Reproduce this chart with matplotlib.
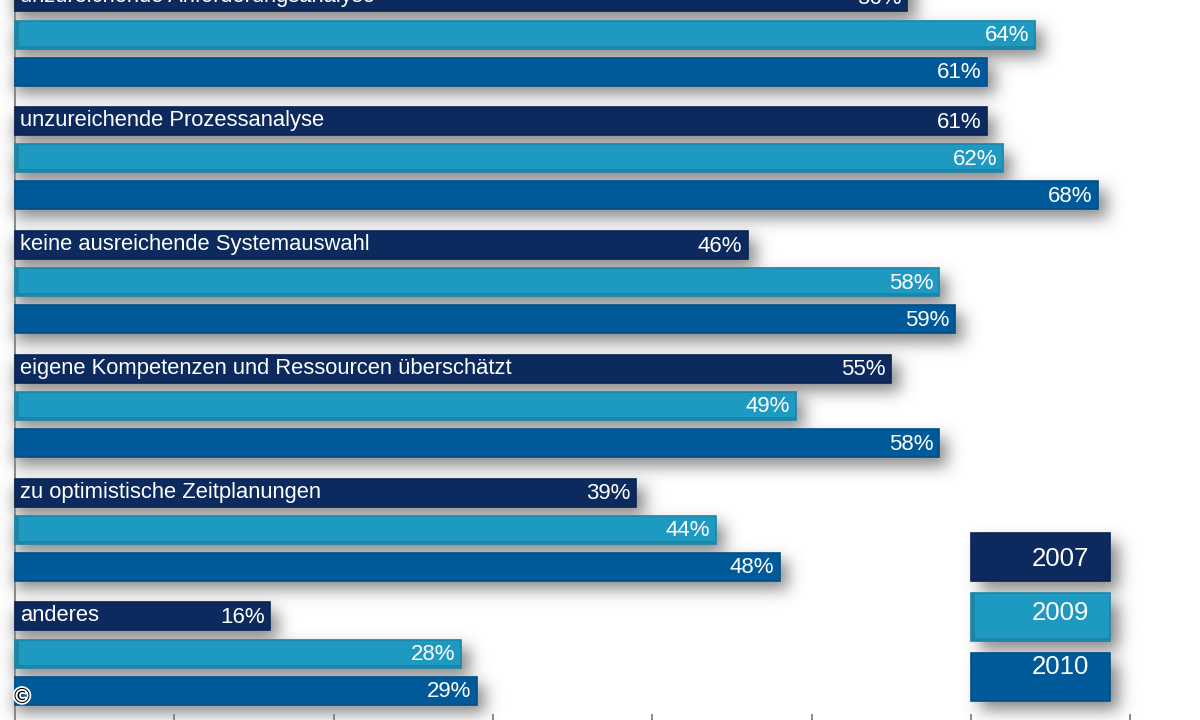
import numpy as np
import matplotlib
matplotlib.use("Agg")
import matplotlib.pyplot as plt
from matplotlib.patches import Rectangle
import matplotlib.patheffects as pe

plt.rcParams['font.family'] = ['Liberation Sans', 'DejaVu Sans']

categories = ["unzureichende Anforderungsanalyse", "unzureichende Prozessanalyse",
              "keine ausreichende Systemauswahl", "eigene Kompetenzen und Ressourcen überschätzt",
              "zu optimistische Zeitplanungen", "anderes"]
years = ["2007", "2009", "2010"]
v2007 = [56, 61, 46, 55, 39, 16]
v2009 = [64, 62, 58, 49, 44, 28]
v2010 = [61, 68, 59, 58, 48, 29]
series = [v2007, v2009, v2010]
colors = ["#0C2A5E", "#1E99C2", "#005A9A"]
edges = ["#0A2450", "#1A86A8", "#004F88"]

W, H = 1200, 720
PX = 15.93          # pixels per percent
GROUP = 123.8       # pixels per group
Y0 = 34.5
X0 = 15

fig = plt.figure(figsize=(12, 7.2), dpi=100, facecolor="white")
ax = fig.add_axes([0, 0, 1, 1])
xlim = (-X0 / PX, (W - X0) / PX)
ylim = ((H - Y0) / GROUP, -Y0 / GROUP)
ax.set_xlim(*xlim)
ax.set_ylim(*ylim)

offs = 37.1 / GROUP
hgt = 28 / GROUP
pos = np.arange(len(categories))

# blurred drop-shadow layer, built from the bar values
mask = np.zeros((H, W))
SX, SY = 9, 9
for s, vals in enumerate(series):
    for i, v in zip(pos, vals):
        cy = Y0 + (i + (s - 1) * offs) * GROUP
        y0, y1 = int(cy - 14 + SY), int(cy + 14 + SY)
        x1 = int(X0 + v * PX + SX)
        mask[max(y0, 0):max(y1, 0), X0:x1] = 1
for t in (533, 593, 653):
    mask[t + SY:t + 48 + SY, 971 + SX:1110 + SX] = 1
kernel = np.exp(-0.5 * (np.arange(-24, 25) / 8.0) ** 2)
kernel /= kernel.sum()
pad = 30
big = np.pad(mask, pad, mode="edge")
big = np.apply_along_axis(lambda r: np.convolve(r, kernel, mode="same"), 0, big)
big = np.apply_along_axis(lambda r: np.convolve(r, kernel, mode="same"), 1, big)
blur = big[pad:-pad, pad:-pad]
rgba = np.zeros((H, W, 4))
rgba[..., :3] = 0.45
rgba[..., 3] = np.clip(blur * 0.85, 0, 1)
ax.imshow(rgba, extent=(xlim[0], xlim[1], ylim[0], ylim[1]), aspect="auto",
          origin="upper", zorder=1, interpolation="nearest")
ax.set_xlim(*xlim)
ax.set_ylim(*ylim)

for s, vals in enumerate(series):
    yy = pos + (s - 1) * offs
    ax.barh(yy, vals, height=hgt, color=colors[s], edgecolor=edges[s],
            linewidth=1.2, zorder=3)
    if s == 1:
        ax.barh(yy + (hgt / 2 - 1.5 / GROUP), vals, height=3 / GROUP, color=edges[s],
                linewidth=0, zorder=3.5)
        ax.barh(yy, [4 / PX] * len(vals), height=hgt, color=edges[s], linewidth=0, zorder=3.5)
    for y, v in zip(yy, vals):
        ax.text(v - 5.5 / PX, y + 1 / GROUP, f"{v}%", color="white", fontsize=16,
                ha="right", va="center", zorder=5)

for i, c in enumerate(categories):
    ax.text(5 / PX, i - offs - 0.5 / GROUP, c, color="white", fontsize=15.8,
            ha="left", va="center", zorder=5)

# axis: left line and bottom ticks
for name in ("top", "right", "bottom"):
    ax.spines[name].set_visible(False)
ax.spines["left"].set_position(("data", 0))
ax.spines["left"].set_color("#8a8a8a")
ax.spines["left"].set_linewidth(1.5)
ax.spines["left"].set_zorder(2)
ax.set_yticks([])
ax.set_xticks(np.arange(0, 71, 10))
ax.set_xticklabels([])
ax.tick_params(axis="x", direction="in", length=4.5, width=1.2, color="#777777")

# legend in pixel coordinates
lg = fig.add_axes([0, 0, 1, 1])
lg.set_xlim(0, W)
lg.set_ylim(H, 0)
lg.axis("off")
lg.patch.set_alpha(0)
tops = [533, 593, 653]
text_y = [559, 613, 667]
for yr, c, e, t, ty in zip(years, colors, edges, tops, text_y):
    lg.add_patch(Rectangle((971, t), 139, 48, facecolor=c, edgecolor=e,
                           linewidth=1.2, zorder=3))
    if yr == "2009":
        lg.add_patch(Rectangle((971, t), 4, 48, facecolor=e, linewidth=0, zorder=3.5))
        lg.add_patch(Rectangle((971, t + 45), 139, 3, facecolor=e, linewidth=0, zorder=3.5))
    lg.text(1060, ty, yr, color="white", fontsize=18.5, ha="center", va="center", zorder=5)

lg.text(22, 697, "©", color="black", fontsize=15, ha="center", va="center", zorder=6,
        family=["DejaVu Sans"],
        path_effects=[pe.withStroke(linewidth=2.5, foreground="white")])

fig.savefig("out.png", dpi=100, facecolor="white")
